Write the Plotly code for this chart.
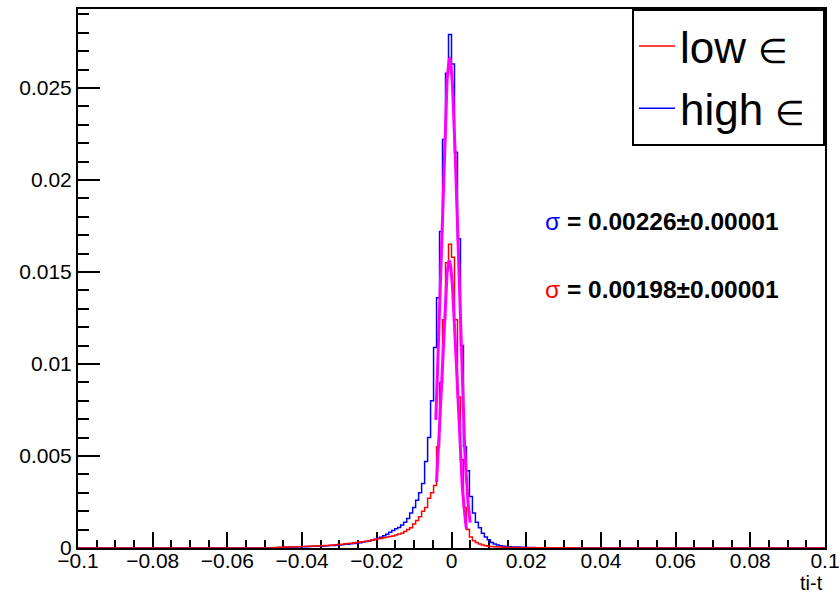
import numpy as np
import plotly.graph_objects as go

# ---------------- data ----------------
x_min, x_max, n_bins = -0.1, 0.1, 250
window_first_bin = 65   # bin index (0-based) where the listed values start (edge -0.048)

high_eps_values = [
    0.00002, 0.00002, 0.00003, 0.00003, 0.00004, 0.00004, 0.00005, 0.00005, 0.00006, 0.00006,
    0.00007, 0.00007, 0.00008, 0.00009, 0.00009, 0.00010, 0.00010, 0.00011, 0.00012, 0.00013,
    0.00014, 0.00015, 0.00016, 0.00018, 0.00020, 0.00021, 0.00023, 0.00025, 0.00027, 0.00029,
    0.00032, 0.00035, 0.00038, 0.00042, 0.00047, 0.00053, 0.00058, 0.00066, 0.00075, 0.00085,
    0.00095, 0.00105, 0.00112, 0.00125, 0.00140, 0.00160, 0.00190, 0.00220, 0.00260, 0.00300,
    0.00350, 0.00470, 0.00600, 0.00800, 0.01090, 0.01360, 0.01720, 0.02220, 0.02580, 0.02790,
    0.02630, 0.02150, 0.01680, 0.01100, 0.00550, 0.00420, 0.00280, 0.00190, 0.00140, 0.00110,
    0.00080, 0.00060, 0.00045, 0.00030, 0.00022, 0.00016, 0.00012, 0.00010, 0.00008, 0.00007,
    0.00006, 0.00005, 0.00005, 0.00004, 0.00004, 0.00003, 0.00003, 0.00003, 0.00002, 0.00002,
    0.00002, 0.00002, 0.00001, 0.00001, 0.00001, 0.00001, 0.00001, 0.00001, 0.00001, 0.00001,
]

low_eps_values = [
    0.00003, 0.00003, 0.00004, 0.00004, 0.00005, 0.00005, 0.00006, 0.00006, 0.00007, 0.00007,
    0.00008, 0.00009, 0.00009, 0.00010, 0.00011, 0.00011, 0.00012, 0.00013, 0.00014, 0.00015,
    0.00016, 0.00018, 0.00020, 0.00021, 0.00023, 0.00024, 0.00026, 0.00028, 0.00030, 0.00032,
    0.00034, 0.00037, 0.00040, 0.00043, 0.00045, 0.00050, 0.00052, 0.00056, 0.00060, 0.00062,
    0.00065, 0.00070, 0.00076, 0.00080, 0.00090, 0.00100, 0.00110, 0.00130, 0.00150, 0.00170,
    0.00200, 0.00220, 0.00270, 0.00300, 0.00340, 0.00550, 0.00900, 0.01240, 0.01550, 0.01650,
    0.01580, 0.01240, 0.00820, 0.00480, 0.00220, 0.00100, 0.00060, 0.00040, 0.00030, 0.00022,
    0.00016, 0.00012, 0.00010, 0.00008, 0.00007, 0.00006, 0.00005, 0.00004, 0.00004, 0.00003,
    0.00003, 0.00002, 0.00002, 0.00002, 0.00002, 0.00002, 0.00001, 0.00001, 0.00001, 0.00001,
    0.00001, 0.00001, 0.00001, 0.00001, 0.00001, 0.00001, 0.00001, 0.00001, 0.00001, 0.00001,
]

# Gaussian fit results (amplitude, mean, sigma, fit range)
high_fit = dict(amp=0.0266, mean=-0.0005, sigma=0.00226, lo=-0.0042, hi=0.0050)
low_fit = dict(amp=0.0156, mean=-0.0006, sigma=0.00198, lo=-0.0040, hi=0.0040)

legend_words = ["low", "high"]
legend_symbol = "\u2208"
sigma_labels = ["0.00226\u00b10.00001", "0.00198\u00b10.00001"]
axis_title = "ti-t"

# ---------------- build ----------------
edges = np.linspace(x_min, x_max, n_bins + 1)


def full_hist(vals):
    h = np.zeros(n_bins)
    h[window_first_bin:window_first_bin + len(vals)] = vals
    return np.append(h, h[-1])


def gauss_curve(p):
    xs = np.linspace(p["lo"], p["hi"], 300)
    return xs, p["amp"] * np.exp(-0.5 * ((xs - p["mean"]) / p["sigma"]) ** 2)


def legend_label(word):
    return f"{word} <span style='font-size:34px'>{legend_symbol}</span>&nbsp;"


FONT = "Liberation Sans, Arial, Helvetica, sans-serif"
BLUE = "#0000ff"
RED = "#ff0000"
MAGENTA = "#ff00ff"

fig = go.Figure()
fig.add_trace(go.Scatter(x=edges, y=full_hist(high_eps_values), mode="lines",
                         line=dict(color=BLUE, width=1.5, shape="hv"),
                         name=legend_label(legend_words[1]), legendrank=2,
                         legendgroup="high"))
fig.add_trace(go.Scatter(x=edges, y=full_hist(low_eps_values), mode="lines",
                         line=dict(color=RED, width=1.5, shape="hv"),
                         name=legend_label(legend_words[0]), legendrank=1,
                         legendgroup="low"))
for p in (high_fit, low_fit):
    fx, fy = gauss_curve(p)
    fig.add_trace(go.Scatter(x=fx, y=fy, mode="lines", showlegend=False,
                             line=dict(color=MAGENTA, width=3)))

fig.add_annotation(xref="paper", yref="paper", x=0.6225, y=0.605, xanchor="left",
                   yanchor="middle", showarrow=False,
                   text=f"<span style='color:{BLUE}'>\u03c3</span><b> = {sigma_labels[0]}</b>",
                   font=dict(family=FONT, size=24.5, color="black"))
fig.add_annotation(xref="paper", yref="paper", x=0.6225, y=0.479, xanchor="left",
                   yanchor="middle", showarrow=False,
                   text=f"<span style='color:{RED}'>\u03c3</span><b> = {sigma_labels[1]}</b>",
                   font=dict(family=FONT, size=24.5, color="black"))
fig.add_annotation(xref="paper", yref="paper", x=1.0, y=-0.041, xanchor="right",
                   yanchor="top", showarrow=False, text=axis_title,
                   font=dict(family=FONT, size=20, color="black"))

xaxis_cfg = dict(range=[x_min, x_max], dtick=0.02, tick0=0, showgrid=False, zeroline=False,
                 showline=True, linecolor="black", linewidth=2, mirror=True,
                 ticks="inside", ticklen=16, tickwidth=1.6, tickcolor="black",
                 tickfont=dict(family=FONT, size=21, color="black"),
                 minor=dict(dtick=0.005, ticks="inside", ticklen=8, tickwidth=1.6,
                            tickcolor="black", showgrid=False),
                 layer="below traces", automargin=False)
yaxis_cfg = dict(range=[0, 0.02929], dtick=0.005, tick0=0, showgrid=False, zeroline=False,
                 showline=True, linecolor="black", linewidth=2, mirror=True,
                 ticks="inside", ticklen=22, tickwidth=1.6, tickcolor="black",
                 tickfont=dict(family=FONT, size=21, color="black"),
                 minor=dict(dtick=0.001, ticks="inside", ticklen=11, tickwidth=1.6,
                            tickcolor="black", showgrid=False),
                 layer="below traces", automargin=False)

fig.update_layout(
    width=840, height=592,
    margin=dict(l=78, r=15, t=9, b=44, autoexpand=False),
    paper_bgcolor="white", plot_bgcolor="white",
    font=dict(family=FONT, color="black"),
    legend=dict(x=1.0, xanchor="right", y=1.0, yanchor="top",
                bgcolor="white", bordercolor="black", borderwidth=2,
                font=dict(family=FONT, size=44, color="black"),
                traceorder="grouped", tracegroupgap=2, itemwidth=36),
    xaxis=xaxis_cfg,
    yaxis=yaxis_cfg,
)
try:
    fig.update_xaxes(ticklabelstandoff=-7)
except Exception:
    pass

fig.write_html(
    "out.html",
    config={"displayModeBar": False},
    post_script="document.body.style.margin='0px';document.body.style.overflow='hidden';",
)
